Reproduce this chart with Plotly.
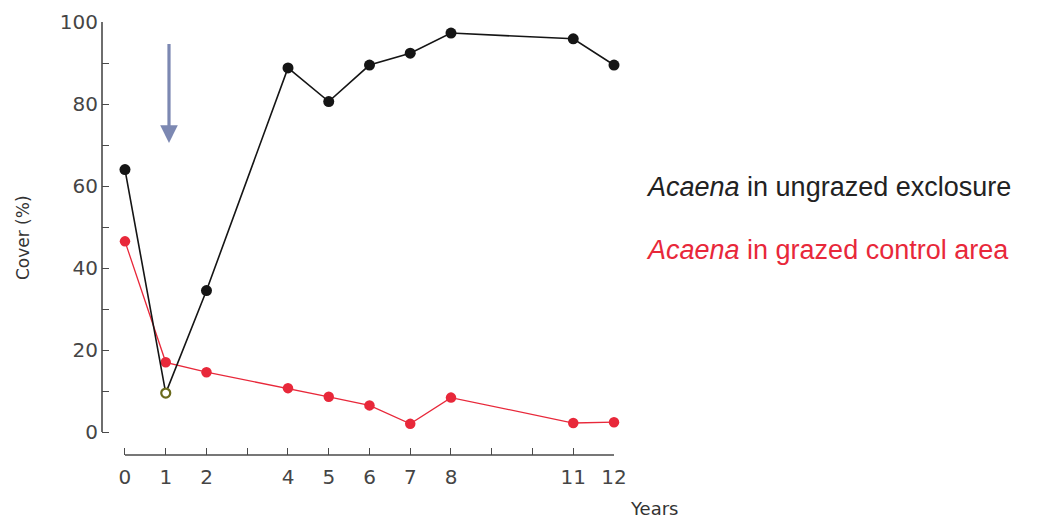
import plotly.graph_objects as go

years = [0, 1, 2, 4, 5, 6, 7, 8, 11, 12]
ungrazed = [64, 9.5, 34.5, 88.8, 80.6, 89.5, 92.4, 97.3, 95.9, 89.5]
grazed = [46.5, 17, 14.6, 10.7, 8.6, 6.5, 2.0, 8.4, 2.2, 2.4]

x_tickvals = list(range(0, 13))
x_ticktext = ["0", "1", "2", "", "4", "5", "6", "7", "8", "", "", "11", "12"]
y_tickvals = list(range(0, 101, 10))
y_ticktext = ["0", "", "20", "", "40", "", "60", "", "80", "", "100"]

black = "#151515"
red = "#e8283a"
axis_col = "#4a4a4a"
tick_font = dict(family="DejaVu Sans, sans-serif", size=20, color="#454545")

fig = go.Figure()

fig.add_trace(go.Scatter(
    x=years, y=grazed, mode="lines+markers",
    line=dict(color=red, width=1.3),
    marker=dict(color=red, size=10.5, opacity=1),
    cliponaxis=False, showlegend=False))

fig.add_trace(go.Scatter(
    x=years, y=ungrazed, mode="lines",
    line=dict(color=black, width=1.6),
    cliponaxis=False, showlegend=False))
fig.add_trace(go.Scatter(
    x=years, y=ungrazed, mode="markers",
    marker=dict(color=["white" if y == 1 else black for y in years],
                size=[9 if y == 1 else 11 for y in years],
                opacity=1,
                line=dict(color=["#6a6a1c" if y == 1 else black for y in years],
                          width=[2.2 if y == 1 else 0 for y in years])),
    cliponaxis=False, showlegend=False))

fig.update_xaxes(range=[-0.564, 12], tickvals=x_tickvals, ticktext=x_ticktext,
                 ticks="inside", ticklen=7, tickcolor=axis_col, tickwidth=1.4,
                 ticklabelstandoff=8, automargin=False,
                 showline=False, showgrid=False, zeroline=False, tickfont=tick_font)
fig.update_yaxes(range=[-5.6, 100], tickvals=y_tickvals, ticktext=y_ticktext,
                 ticks="inside", ticklen=7, tickcolor=axis_col, tickwidth=1.4,
                 ticklabelstandoff=3, automargin=False,
                 showline=False, showgrid=False, zeroline=False, tickfont=tick_font)

# axis lines spanning only the data extents
fig.add_shape(type="line", xref="paper", yref="y", x0=0, x1=0, y0=0, y1=100,
              line=dict(color=axis_col, width=1.6))
fig.add_shape(type="line", xref="x", yref="paper", x0=0, x1=12, y0=0, y1=0,
              line=dict(color=axis_col, width=1.6))

# arrow
fig.add_annotation(x=1.08, y=70.5, ax=1.08, ay=95, xref="x", yref="y", axref="x", ayref="y",
                   showarrow=True, arrowhead=2, arrowsize=1.1, arrowwidth=3.2,
                   arrowcolor="#7c88b2", text="")

fig.add_annotation(text="Cover (%)", xref="paper", yref="y", x=0, y=47.3, xshift=-79,
                   xanchor="center", yanchor="middle",
                   textangle=-90, showarrow=False,
                   font=dict(family="DejaVu Sans, sans-serif", size=17, color="#333"))
fig.add_annotation(text="Years", xref="paper", yref="paper", x=1, y=0, xshift=14, yshift=-53,
                   xanchor="left", yanchor="middle", showarrow=False,
                   font=dict(family="DejaVu Sans, sans-serif", size=18, color="#333"))

fig.add_annotation(text="<i>Acaena</i> in ungrazed exclosure", xref="paper", yref="paper",
                   x=1.0585, y=0.619, xanchor="left", yanchor="middle",
                   showarrow=False, font=dict(family="Liberation Sans, Arial, sans-serif", size=27, color="#222"))
fig.add_annotation(text="<i>Acaena</i> in grazed control area", xref="paper", yref="paper",
                   x=1.0585, y=0.4734, xanchor="left", yanchor="middle",
                   showarrow=False, font=dict(family="Liberation Sans, Arial, sans-serif", size=27, color=red))

fig.update_layout(width=1029, height=511, margin=dict(l=94, r=423, t=14, b=64),
                  plot_bgcolor="white", paper_bgcolor="white")

fig.write_html("out.html")
